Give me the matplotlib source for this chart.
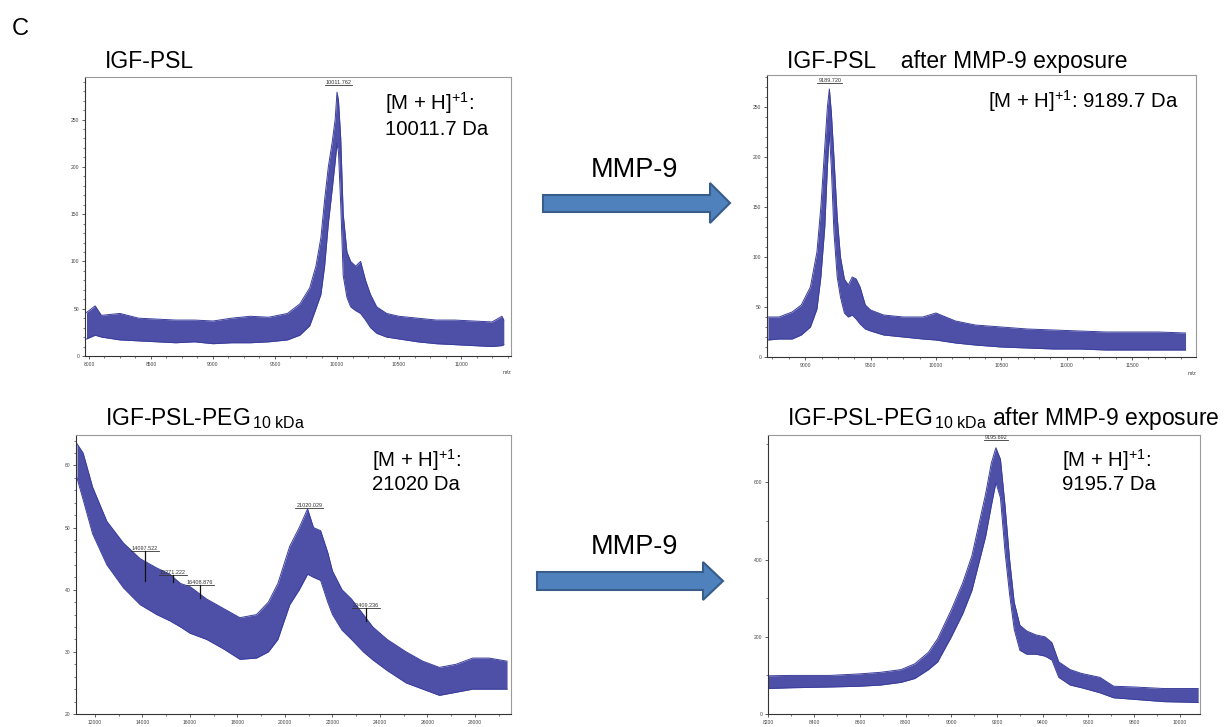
import matplotlib
matplotlib.use("Agg")
import matplotlib.pyplot as plt
from matplotlib.patches import Polygon
from matplotlib.ticker import MultipleLocator
import numpy as np

plt.rcParams['font.family'] = ['Liberation Sans', 'DejaVu Sans']
plt.rcParams['mathtext.fontset'] = 'custom'
plt.rcParams['mathtext.rm'] = 'Liberation Sans'
plt.rcParams['mathtext.it'] = 'Liberation Sans:italic'
plt.rcParams['mathtext.bf'] = 'Liberation Sans:bold'
plt.rcParams['mathtext.default'] = 'regular'

# ---------------- data (envelope of the noisy spectra) ----
# Panel 1: IGF-PSL
mz1 = [7980, 8050, 8100, 8250, 8400, 8550, 8700, 8850, 9000, 9150, 9300, 9450,
       9600, 9700, 9780, 9830, 9870, 9900, 9930, 9960, 9985, 10000, 10012,
       10030, 10050, 10080, 10110, 10150, 10190, 10230, 10270, 10320, 10400,
       10500, 10650, 10800, 10950, 11100, 11250, 11330, 11345]
hi1 = [46, 53, 43, 45, 40, 39, 38, 38, 37, 40, 42, 41, 45, 55, 72, 95, 125,
       165, 200, 225, 250, 279, 270, 230, 150, 110, 100, 95, 100, 80, 65, 52,
       45, 42, 40, 38, 38, 37, 36, 42, 38]
lo1 = [18, 22, 20, 17, 16, 15, 14, 15, 13, 14, 14, 15, 17, 22, 32, 50, 65, 95,
       140, 175, 205, 225, 215, 160, 85, 62, 52, 48, 45, 38, 30, 24, 20, 18,
       15, 13, 12, 11, 10, 11, 12]

# Panel 2: IGF-PSL after MMP-9 exposure
mz2 = [8715, 8800, 8900, 8970, 9040, 9090, 9120, 9150, 9170, 9185, 9200, 9220,
       9245, 9270, 9300, 9330, 9360, 9390, 9420, 9460, 9500, 9600, 9750, 9900,
       10000, 10150, 10300, 10500, 10700, 10900, 11100, 11300, 11500, 11700,
       11910]
hi2 = [40, 40, 45, 52, 70, 105, 150, 210, 250, 268, 245, 200, 140, 100, 78,
       72, 80, 78, 70, 52, 47, 42, 40, 40, 44, 36, 32, 30, 28, 27, 26, 25, 25,
       25, 24]
lo2 = [17, 18, 18, 22, 30, 48, 80, 130, 190, 225, 190, 125, 80, 60, 44, 40,
       42, 38, 33, 28, 26, 22, 20, 18, 17, 14, 12, 10, 9, 8, 8, 7, 7, 7, 7]

# Panel 3: IGF-PSL-PEG 10 kDa
mz3 = [11240, 11500, 11900, 12500, 13200, 13900, 14600, 15150, 15600, 16000,
       16700, 17400, 18100, 18800, 19300, 19700, 20200, 20600, 20950, 21200,
       21500, 21800, 22000, 22400, 22800, 23300, 23700, 24300, 25100, 25800,
       26500, 27200, 27900, 28600, 29350]
hi3 = [63.5, 62, 56.5, 51, 47.5, 45, 43.5, 42.5, 41, 40.5, 38.5, 37, 35.5, 36,
       38, 41, 47, 50, 53, 50, 49.5, 46, 43, 40, 38.5, 36, 34, 32, 30, 28.5,
       27.5, 28, 29, 29, 28.5]
lo3 = [58, 54.5, 49, 44, 40.3, 37.6, 36, 35, 34, 33, 32, 30.5, 28.8, 29, 30,
       32, 37.6, 40, 42.5, 42, 41.5, 38, 36, 33.5, 32, 30, 28.7, 27, 25, 24,
       23, 23.5, 24, 24, 24]

# Panel 4: IGF-PSL-PEG 10 kDa after MMP-9 exposure
mz4 = [8198, 8300, 8470, 8600, 8690, 8780, 8840, 8900, 8940, 9000, 9050, 9090,
       9120, 9150, 9175, 9195, 9215, 9235, 9255, 9275, 9300, 9330, 9370, 9410,
       9440, 9470, 9520, 9570, 9650, 9710, 9800, 9930, 10080]
hi4 = [99, 100, 100, 104, 108, 115, 130, 160, 195, 270, 340, 410, 490, 570,
       650, 690, 660, 540, 400, 290, 230, 215, 205, 200, 185, 135, 115, 105,
       95, 72, 70, 66, 66]
lo4 = [66, 68, 70, 72, 75, 82, 92, 115, 135, 200, 260, 320, 390, 460, 540,
       600, 560, 420, 310, 220, 165, 155, 155, 150, 140, 95, 75, 68, 55, 42, 38,
       32, 30]

# peak labels: (m/z, label height, tick bottom or None)
peaks1 = [(10011.762, 287, None)]
peaks2 = [(9189.720, 274, None)]
peaks3 = [(14097.522, 46.2, 41.4), (15271.222, 42.4, 41.3),
          (16408.876, 40.8, 38.7), (21020.029, 53.2, None),
          (23409.236, 37.0, 35.0)]
peaks4 = [(9195.692, 711, None)]

titles = ['IGF-PSL',
          'IGF-PSL    after MMP-9 exposure',
          r'IGF-PSL-PEG$_{\,10\ kDa}$',
          r'IGF-PSL-PEG$_{\,10\ kDa}$ after MMP-9 exposure']

# ---------------- figure ----------------
W, H = 1224, 727
fig = plt.figure(figsize=(W / 100, H / 100), dpi=100)
LINE = '#3a3d9c'


def fx(px):
    return px / W


def fy(py):
    return 1 - py / H


def make_ax(l, t, r, b):
    return fig.add_axes([fx(l), fy(b), fx(r) - fx(l), fy(t) - fy(b)])


panels = [
    dict(box=(85, 77, 511, 356), mz=mz1, hi=hi1, lo=lo1, xlim=(7968, 11403),
         ylim=(0, 295), xmaj=500, xmin=125, ymaj=50, ymin=10, peaks=peaks1,
         mzlabel=True),
    dict(box=(767, 75, 1196, 357), mz=mz2, hi=hi2, lo=lo2, xlim=(8708, 11990),
         ylim=(0, 282), xmaj=500, xmin=125, ymaj=50, ymin=10, peaks=peaks2,
         mzlabel=True),
    dict(box=(76, 435, 511, 714), mz=mz3, hi=hi3, lo=lo3, xlim=(11200, 29516),
         ylim=(20, 64.9), xmaj=2000, xmin=1000, ymaj=10, ymin=2, peaks=peaks3,
         mzlabel=False),
    dict(box=(768, 435, 1200, 714), mz=mz4, hi=hi4, lo=lo4, xlim=(8198, 10088),
         ylim=(0, 723), xmaj=200, xmin=100, ymaj=200, ymin=100, peaks=peaks4,
         mzlabel=False),
]

axes = []
for p in panels:
    ax = make_ax(*p['box'])
    mz = np.array(p['mz'], float)
    ax.fill_between(mz, p['lo'], p['hi'], color=LINE, lw=0, alpha=0.9)
    ax.plot(mz, p['hi'], color=LINE, lw=0.7)
    ax.plot(mz, p['lo'], color=LINE, lw=0.7)
    ax.set_xlim(*p['xlim'])
    ax.set_ylim(*p['ylim'])
    ax.xaxis.set_major_locator(MultipleLocator(p['xmaj']))
    ax.xaxis.set_minor_locator(MultipleLocator(p['xmin']))
    ax.yaxis.set_major_locator(MultipleLocator(p['ymaj']))
    ax.yaxis.set_minor_locator(MultipleLocator(p['ymin']))
    ax.tick_params(which='major', direction='out', length=2.5, width=0.6,
                   labelsize=3.6, colors='#444444', pad=1.5)
    ax.tick_params(which='minor', direction='out', length=1.3, width=0.5,
                   colors='#444444')
    ax.tick_params(top=False, right=False)
    for side, sp in ax.spines.items():
        sp.set_linewidth(0.8)
        sp.set_color('#333333' if side in ('left', 'bottom') else '#9a9a9a')
    ax.yaxis.set_major_formatter(plt.FuncFormatter(lambda v, _: f'{v:.0f}'))
    ax.xaxis.set_major_formatter(plt.FuncFormatter(lambda v, _: f'{v:.0f}'))
    if p['mzlabel']:
        ax.text(1.0, -0.05, 'm/z', transform=ax.transAxes, ha='right',
                va='top', fontsize=4, color='#444444')
    axes.append(ax)

fig.canvas.draw()
renderer = fig.canvas.get_renderer()
for ax, p in zip(axes, panels):
    for mzv, ylab, ytick in p['peaks']:
        t = ax.text(mzv, ylab, f'{mzv:.3f}', ha='center', va='bottom',
                    fontsize=4, color='#333333')
        bb = t.get_window_extent(renderer)
        inv = ax.transData.inverted()
        (x0, y0), (x1, _) = inv.transform([(bb.x0 - 1, bb.y0), (bb.x1 + 1, bb.y0)])
        ax.plot([x0, x1], [y0, y0], color='#333333', lw=0.6)
        if ytick is not None:
            ax.plot([mzv, mzv], [y0, ytick], color='#111111', lw=0.9)

# ---------------- texts ----------------
fig.text(fx(12), fy(35), 'C', fontsize=17, va='baseline', ha='left')

TS = 16.5
fig.text(fx(105), fy(68), titles[0], fontsize=TS, va='baseline')
fig.text(fx(787), fy(68), titles[1], fontsize=TS, va='baseline')
fig.text(fx(105), fy(425), titles[2], fontsize=TS, va='baseline')
fig.text(fx(787), fy(425), titles[3], fontsize=TS, va='baseline')

AS = 14.7
mh = r'[M + H]$^{+1}$:'
fig.text(fx(385), fy(110), mh, fontsize=AS, va='baseline')
fig.text(fx(385), fy(135), '10011.7 Da', fontsize=AS, va='baseline')
fig.text(fx(988), fy(108), r'[M + H]$^{+1}$: 9189.7 Da', fontsize=AS,
         va='baseline')
fig.text(fx(372), fy(467), mh, fontsize=AS, va='baseline')
fig.text(fx(372), fy(490), '21020 Da', fontsize=AS, va='baseline')
fig.text(fx(1062), fy(467), mh, fontsize=AS, va='baseline')
fig.text(fx(1062), fy(490), '9195.7 Da', fontsize=AS, va='baseline')

# ---------------- arrows ----------------
def arrow(left, st, sb, hx, ht, hb, tip, cy, label_y):
    pts = [(left, st), (hx, st), (hx, ht), (tip, cy), (hx, hb), (hx, sb),
           (left, sb)]
    poly = Polygon([(fx(a), fy(b)) for a, b in pts], closed=True,
                   transform=fig.transFigure, facecolor='#4f81bd',
                   edgecolor='#385d8a', lw=1.5)
    fig.patches.append(poly)
    fig.text(fx(634), fy(label_y), 'MMP-9', fontsize=19.5, ha='center',
             va='baseline')


arrow(543, 195, 212, 710, 183, 223, 730, 203, 177)
arrow(537, 572, 590, 703, 562, 600, 723, 581, 554)

fig.savefig('out.png', dpi=100)
